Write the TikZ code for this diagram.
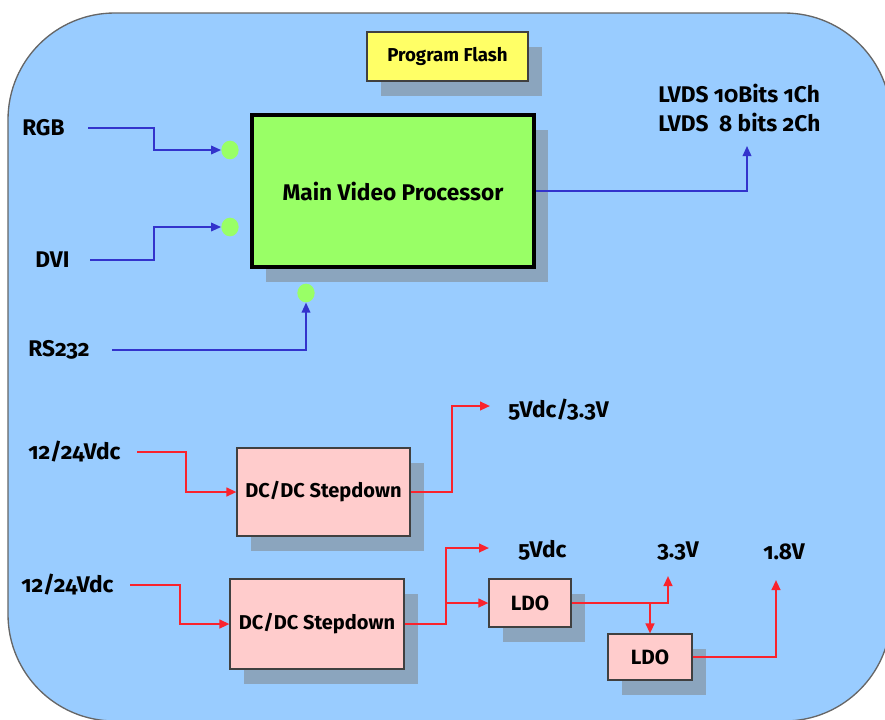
\documentclass[tikz,border=0pt]{standalone}
\usepackage{fontspec}
\setmainfont{Fira Sans}[Numbers=OldStyle]
\usetikzlibrary{arrows.meta,shadows,shapes.geometric}
\definecolor{bgblue}{RGB}{153,204,255}
\definecolor{greenc}{RGB}{153,255,102}
\definecolor{yellowc}{RGB}{255,255,102}
\definecolor{pinkc}{RGB}{255,204,204}
\definecolor{shadowc}{RGB}{139,165,190}
\definecolor{bluel}{RGB}{51,51,204}
\definecolor{redl}{RGB}{250,35,45}
\tikzset{
  sh/.style={general shadow={fill=shadowc, shadow xshift=10.5pt, shadow yshift=-11pt}},
  box/.style={draw=black!75, line width=0.8pt, fill=pinkc, sh, inner sep=0pt},
  lab/.style={anchor=west, inner sep=0pt, font=\bfseries\fontsize{17}{20}\selectfont},
  arr/.style={-{Triangle[length=7.5pt,width=6.5pt]}},
  bl/.style={draw=bluel, line width=1.1pt, arr},
  rd/.style={draw=redl, line width=1.5pt, arr},
  dot/.style={ellipse, fill=greenc, minimum width=13pt, minimum height=14pt, inner sep=0pt},
}
\begin{document}
\begin{tikzpicture}[x=0.75pt,y=-0.75pt]
\useasboundingbox (0,0) rectangle (885,719);
\begin{scope}
\clip (0,0) rectangle (885,719);
\draw[fill=bgblue, draw=black!60, line width=1pt, rounded corners=80pt] (8,13) rectangle (891,721);
\end{scope}

% boxes
\node[box, fill=yellowc, minimum width=120.75pt, minimum height=36.75pt,
      font=\bfseries\fontsize{14}{16}\selectfont] (flash) at (447.5,56.5) {Program Flash};
\node[draw=black, line width=3pt, fill=greenc, sh, minimum width=211.5pt, minimum height=114pt,
      inner sep=0pt, font=\bfseries\fontsize{17}{20}\selectfont] (mvp) at (393,191) {Main Video Processor};

\node[dot] (drgb) at (230,150) {};
\node[dot] (ddvi) at (230,227) {};
\node[dot] (drs) at (306,293) {};

% labels
\node[lab] (rgb) at (22,128) {RGB};
\node[lab] (dvi) at (35,260) {DVI};
\node[lab] (rs) at (28,350) {RS232};
\node[lab] (lvdsa) at (658,93) {LVDS 10Bits 1Ch};
\node[lab] (lvdsb) at (658,122) {LVDS\ \ 8 bits 2Ch};

\coordinate (rgbs) at (88,128);
\coordinate (dvis) at (90,260);
\coordinate (rss) at (112,350);
\coordinate (lvdsin) at (747,146);

\draw[bl] (rgbs) -- (154,128) |- (drgb.west);
\draw[bl] (dvis) -- (154,260) |- (ddvi.west);
\draw[bl] (rss) -| (drs.south);
\draw[bl] (mvp.east) -| (lvdsin);

% power section
\node[box, minimum width=129.75pt, minimum height=66pt,
      font=\bfseries\fontsize{15}{18}\selectfont] (dca) at (323.5,492) {DC/DC Stepdown};
\node[box, minimum width=130.5pt, minimum height=67.5pt,
      font=\bfseries\fontsize{15}{18}\selectfont] (dcb) at (317,624) {DC/DC Stepdown};
\node[box, minimum width=61.5pt, minimum height=36pt,
      font=\bfseries\fontsize{15.5}{18}\selectfont] (ldoa) at (530,603) {LDO};
\node[box, minimum width=63pt, minimum height=34.5pt,
      font=\bfseries\fontsize{15.5}{18}\selectfont] (ldob) at (650,657) {LDO};

\node[lab] (ina) at (28,452) {12/24Vdc};
\node[lab] (inb) at (21,585) {12/24Vdc};
\node[lab] (oa) at (508,410) {5Vdc/3.3V};
\node[lab] (ob) at (518,550) {5Vdc};
\node[lab] (oc) at (657,551) {3.3V};
\node[lab] (od) at (763,552) {1.8V};

\coordinate (inas) at (137,452);
\coordinate (inbs) at (130,585);
\coordinate (outa) at (490,406);
\coordinate (outb) at (489,548);
\coordinate (outc) at (668,576);
\coordinate (outd) at (776,580);
\coordinate (bra) at (446,603);
\coordinate (brb) at (650,603);

\draw[rd] (inas) -- (186,452) |- (dca.west);
\draw[rd] (inbs) -- (180,585) |- (dcb.west);
\draw[rd] (dca.east) -- (452,492) |- (outa);
\draw[rd] (dcb.east) -- (446,624) |- (outb);
\draw[rd] (bra) -- (ldoa.west);
\draw[rd] (ldoa.east) -| (outc);
\draw[rd] (brb) -- (ldob.north);
\draw[rd] (ldob.east) -| (outd);
\end{tikzpicture}
\end{document}
